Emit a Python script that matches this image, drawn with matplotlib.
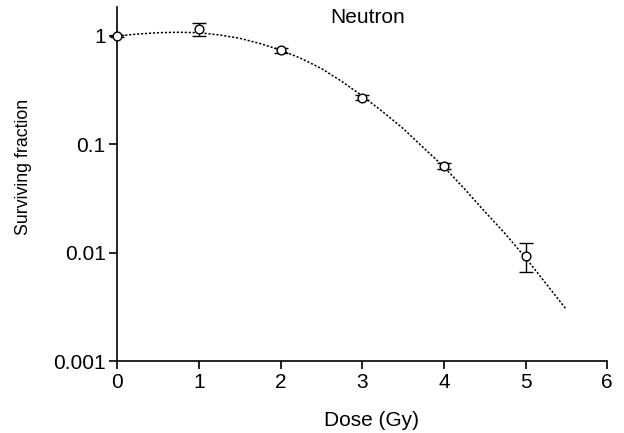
import numpy as np
import matplotlib
matplotlib.use('Agg')
import matplotlib.pyplot as plt
from matplotlib.ticker import FixedLocator, FixedFormatter, NullLocator

plt.rcParams['font.family'] = ['Liberation Sans', 'DejaVu Sans']

# measured points
dose = [0, 1, 2, 3, 4, 5]
surv = [1.0, 1.15, 0.74, 0.27, 0.063, 0.0094]
surv_err = [0.03, 0.16, 0.04, 0.015, 0.004, 0.0028]

# fitted curve
curve_dose = [0, 0.25, 0.5, 0.75, 1.0, 1.25, 1.5, 1.75, 2.0, 2.25, 2.5, 2.75,
              3.0, 3.25, 3.5, 3.75, 4.0, 4.25, 4.5, 4.75, 5.0, 5.25, 5.5]
curve_surv = [1.0, 1.04, 1.07, 1.08, 1.07, 1.02, 0.95, 0.85, 0.74, 0.62, 0.50, 0.38,
              0.28, 0.20, 0.14, 0.093, 0.062, 0.039, 0.024, 0.015, 0.0090, 0.0052, 0.0030]

x_ticks = [0, 1, 2, 3, 4, 5, 6]
y_ticks = [0.001, 0.01, 0.1, 1]
y_tick_labels = ['0.001', '0.01', '0.1', '1']

fig = plt.figure(figsize=(6.24, 4.33), dpi=100)
ax = fig.add_axes([0.188, 0.166, 0.785, 0.818])

ax.plot(curve_dose, curve_surv, color='black', lw=1.1, linestyle=(0, (1.4, 1.2)))
ax.errorbar(dose, surv, yerr=surv_err, fmt='o', mfc='white', mec='black', ms=6.3,
            mew=1.0, ecolor='black', elinewidth=1.0, capsize=4.7, capthick=1.0,
            clip_on=False, zorder=3)

ax.set_yscale('log')
ax.set_xlim(0, 6)
ax.set_ylim(0.001, 1.85)

ax.xaxis.set_major_locator(FixedLocator(x_ticks))
ax.yaxis.set_major_locator(FixedLocator(y_ticks))
ax.yaxis.set_major_formatter(FixedFormatter(y_tick_labels))
ax.yaxis.set_minor_locator(NullLocator())

ax.spines['top'].set_visible(False)
ax.spines['right'].set_visible(False)
for s in ['left', 'bottom']:
    ax.spines[s].set_linewidth(1.2)
ax.tick_params(axis='both', direction='out', length=5.5, width=1.2, labelsize=15, pad=3)

ax.set_xlabel('Dose (Gy)', fontsize=15)
ax.set_ylabel('Surviving fraction', fontsize=12.8)
ax.xaxis.set_label_coords(0.518, -0.142)
ax.yaxis.set_label_coords(-0.175, 0.549)

ax.text(0.512, 0.969, 'Neutron', fontsize=15, ha='center', va='center',
        transform=ax.transAxes)

fig.savefig('out.png', dpi=100)
